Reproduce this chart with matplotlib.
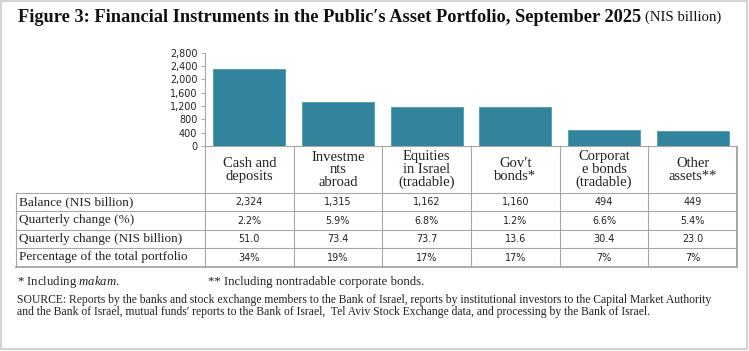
import matplotlib
matplotlib.use("Agg")
import matplotlib.pyplot as plt
from matplotlib.patches import Rectangle

# Data
categories = ["Cash and\ndeposits", "Investme\nnts\nabroad", "Equities\nin Israel\n(tradable)",
              "Gov\u2032t\nbonds*", "Corporat\ne bonds\n(tradable)", "Other\nassets**"]
balance = [2324, 1315, 1162, 1160, 494, 449]
quarterly_pct = [2.2, 5.9, 6.8, 1.2, 6.6, 5.4]
quarterly_nis = [51.0, 73.4, 73.7, 13.6, 30.4, 23.0]
share_pct = [34, 19, 17, 17, 7, 7]
row_labels = ["Balance (NIS billion)", "Quarterly change (%)",
              "Quarterly change (NIS billion)", "Percentage of the total portfolio"]
yticks = list(range(0, 2801, 400))

W, H = 749, 351
serif = ["Liberation Serif", "DejaVu Serif"]
num_font = "DejaVu Sans"
bar_color = "#31849B"
grid_color = "#a6a6a6"

plt.rcParams["mathtext.fontset"] = "custom"
plt.rcParams["mathtext.it"] = "Liberation Serif:italic"
plt.rcParams["mathtext.rm"] = "Liberation Serif"

fig = plt.figure(figsize=(W / 100, H / 100), dpi=100)

# layout in pixels
ax_left, ax_right = 205, 737
y_zero, y_top = 146, 52.7
lab_left = 16
head_bottom = 192.7
row_h = 18.5
ncol = len(balance)
col_w = (ax_right - ax_left) / ncol

# bar axes
ax = fig.add_axes([ax_left / W, (H - y_zero) / H, (ax_right - ax_left) / W, (y_zero - y_top) / H])
ax.bar(range(ncol), balance, width=0.81, color=bar_color, edgecolor="#4a9cb3", linewidth=0.6)
ax.set_xlim(-0.5, ncol - 0.5)
ax.set_ylim(0, 2800)
ax.set_yticks(yticks)
ax.set_yticklabels([f"{v:,}" for v in yticks], fontfamily=num_font, fontsize=6.9)
ax.set_xticks([])
ax.tick_params(axis="y", length=3, width=0.7, color=grid_color, pad=2.5, labelcolor="#222222")
for s in ["top", "right"]:
    ax.spines[s].set_visible(False)
ax.spines["left"].set_color(grid_color)
ax.spines["bottom"].set_color(grid_color)
ax.spines["left"].set_linewidth(0.8)
ax.spines["bottom"].set_linewidth(0.8)
ax.patch.set_visible(False)

# overlay in pixel coordinates for table and texts
ov = fig.add_axes([0, 0, 1, 1])
ov.set_xlim(0, W)
ov.set_ylim(H, 0)
ov.axis("off")
ov.patch.set_visible(False)

ov.add_patch(Rectangle((0.8, 0.8), W - 3, H - 2.5, fill=False, edgecolor="#d4d4d4", linewidth=1.6))

# table grid
table_bottom = head_bottom + row_h * len(row_labels)
for k in range(ncol + 1):
    x = ax_left + k * col_w
    ov.plot([x, x], [y_zero, table_bottom], color=grid_color, lw=0.8 if k < ncol else 1.4,
            solid_capstyle="butt")
ov.plot([lab_left, lab_left], [head_bottom, table_bottom], color=grid_color, lw=0.8)
for r in range(len(row_labels) + 1):
    y = head_bottom + r * row_h
    ov.plot([lab_left, ax_right], [y, y], color=grid_color, lw=0.8 if r < len(row_labels) else 1.3)

# header labels
for i, cat in enumerate(categories):
    ov.text(ax_left + (i + 0.5) * col_w, (y_zero + head_bottom) / 2 + 0.5, cat, ha="center", va="center",
            fontfamily=serif, fontsize=10.5, linespacing=0.98, color="#222222")

# rows
rows = [
    [f"{v:,}" for v in balance],
    [f"{v:.1f}%" for v in quarterly_pct],
    [f"{v:.1f}" for v in quarterly_nis],
    [f"{v}%" for v in share_pct],
]
for r, (lab, vals) in enumerate(zip(row_labels, rows)):
    yc = head_bottom + (r + 0.5) * row_h
    ov.text(lab_left + 3, yc, lab, ha="left", va="center", fontfamily=serif, fontsize=9.5, color="#222222")
    for i, v in enumerate(vals):
        ov.text(ax_left + (i + 0.5) * col_w, yc + 0.5, v, ha="center", va="center",
                fontfamily=num_font, fontsize=6.9, color="#222222")

# title
t1 = ov.text(18, 17, "Figure 3: Financial Instruments in the Public\u2032s Asset Portfolio, September 2025",
             ha="left", va="center", fontfamily=serif, fontweight="bold", fontsize=13.2, color="#111111")
fig.canvas.draw()
bb = t1.get_window_extent()
ov.text(bb.x1 + 4, 17.5, "(NIS billion)", ha="left", va="center", fontfamily=serif, fontsize=10.6,
        color="#111111")

# footnotes
ov.text(17, 282, "* Including $\\it{makam}$.", ha="left", va="center", fontfamily=serif, fontsize=9.2,
        color="#222222")
ov.text(208, 282, "** Including nontradable corporate bonds.", ha="left", va="center", fontfamily=serif,
        fontsize=9.2, color="#222222")
ov.text(17, 300, "SOURCE: Reports by the banks and stock exchange members to the Bank of Israel, reports by "
        "institutional investors to the Capital Market Authority", ha="left", va="center",
        fontfamily=serif, fontsize=8.35, color="#222222")
ov.text(17, 312, "and the Bank of Israel, mutual funds\u2032 reports to the Bank of Israel,  Tel Aviv Stock "
        "Exchange data, and processing by the Bank of Israel.", ha="left", va="center",
        fontfamily=serif, fontsize=8.35, color="#222222")

fig.savefig("out.png", dpi=100)
